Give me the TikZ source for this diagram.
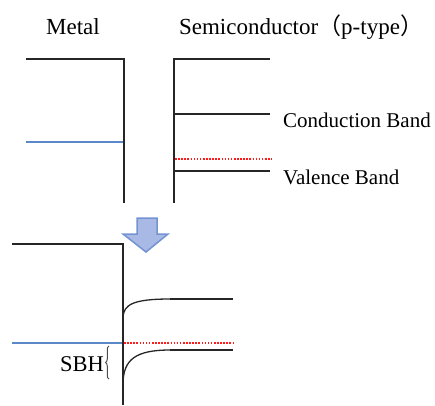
\documentclass[tikz,border=0pt]{standalone}
\usepackage{fontspec}
\setmainfont{Liberation Serif}
\newfontfamily\cjkfont{Noto Sans CJK JP}
\usetikzlibrary{decorations.pathreplacing}
\definecolor{fermiblue}{HTML}{5B89C8}
\definecolor{arrowfill}{HTML}{A7B9E4}
\definecolor{arrowedge}{HTML}{7493D3}
\definecolor{levelred}{HTML}{FF1A1A}
\tikzset{
  band/.style={line width=2pt, black!85},
  fermi/.style={line width=2pt, fermiblue},
  level/.style={line width=1.6pt, levelred, dash pattern=on 1.6pt off 1.5pt},
  title/.style={font=\fontsize{23}{27}\selectfont, inner sep=0pt},
  lbl/.style={font=\fontsize{21}{25}\selectfont, inner sep=0pt, anchor=west}
}
\begin{document}
\begin{tikzpicture}[x=1pt, y=-1pt]
\useasboundingbox (0,0) rectangle (435,405);

% titles
\node[title] (metal) at (73,27) {Metal};
\node[title] (semi) at (301,27) {Semiconductor{\cjkfont （}p-type{\cjkfont ）}};

% before contact: metal
\draw[band] (26,59) -- (124,59) -- (124,203);
\draw[fermi] (26,142) -- (123,142);

% before contact: semiconductor
\draw[band] (270,59) -- (174,59) -- (174,203);
\draw[band] (174,114) -- (270,114);
\draw[band] (174,171) -- (270,171);
\draw[level] (175,159) -- (272,159);
\node[lbl] (cb) at (283,120) {Conduction Band};
\node[lbl] (vb) at (283,177) {Valence Band};

% arrow
\draw[arrowedge, fill=arrowfill, line width=1.5pt, line join=miter]
  (137,218) -- (157,218) -- (157,234) -- (168,234) -- (146,252)
  -- (123,234) -- (137,234) -- cycle;

% after contact
\draw[band] (12,244) -- (123,244) -- (123,405);
\draw[fermi] (12,343) -- (122,343);
\draw[level] (124,343) -- (233,343);
\draw[line width=1.3pt, black!85] (123,317)
  .. controls (124,305) and (132,299) .. (170,299);
\draw[band] (170,299) -- (233,299);
\draw[line width=1.3pt, black!85] (123,382)
  .. controls (124,360) and (135,350) .. (170,350);
\draw[band] (170,350) -- (233,350);

% barrier height
\node[title, anchor=east, font=\fontsize{22.5}{26}\selectfont] (sbh) at (104,364) {SBH};
\draw[black!70, line width=1pt, decorate, decoration={brace, amplitude=3.5pt}]
  (109,379) -- (109,346);
\end{tikzpicture}
\end{document}
